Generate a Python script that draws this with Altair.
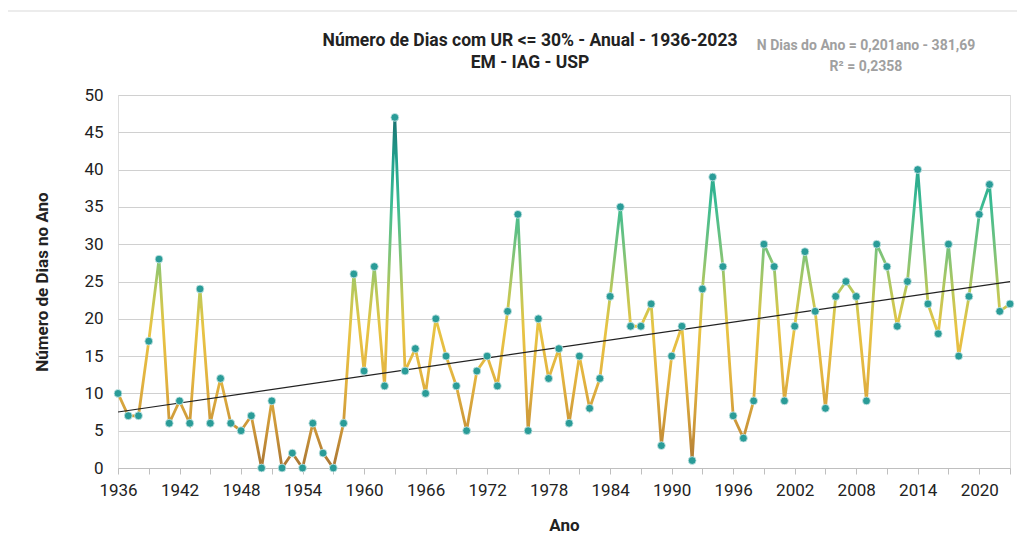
import altair as alt
import pandas as pd

years = list(range(1936, 2024))
days = [10, 7, 7, 17, 28, 6, 9, 6, 24, 6,
        12, 6, 5, 7, 0, 9, 0, 2, 0, 6,
        2, 0, 6, 26, 13, 27, 11, 47, 13, 16,
        10, 20, 15, 11, 5, 13, 15, 11, 21, 34,
        5, 20, 12, 16, 6, 15, 8, 12, 23, 35,
        19, 19, 22, 3, 15, 19, 1, 24, 39, 27,
        7, 4, 9, 30, 27, 9, 19, 29, 21, 8,
        23, 25, 23, 9, 30, 27, 19, 25, 40, 22,
        18, 30, 15, 23, 34, 38, 21, 22]

title_lines = ["Número de Dias com UR <= 30% - Anual - 1936-2023", "EM - IAG - USP"]
eq_lines = ["N Dias do Ano = 0,201ano - 381,69", "R² = 0,2358"]
x_tick_values = list(range(1936, 2024, 3))
y_tick_values = list(range(0, 51, 5))

df = pd.DataFrame({"Ano": years, "Dias": days})

FONT = "Roboto, 'Open Sans', sans-serif"

x_enc = alt.X("Ano:Q",
              scale=alt.Scale(domain=[1936, 2023], nice=False, zero=False),
              axis=alt.Axis(values=x_tick_values, tickCount=60, format="d",
                            labelExpr="(datum.value - 1936) % 6 == 0 ? datum.label : ''",
                            grid=False, tickSize=6, tickColor="#bfbfbf",
                            domainColor="#bfbfbf", labelFontSize=17, labelColor="#222",
                            labelPadding=8, labelFont=FONT, labelFlush=False,
                            labelOverlap=False,
                            title="Ano", titleFont=FONT, titleFontSize=17,
                            titleFontWeight="bold", titleColor="#222",
                            titleY=57, titleBaseline="middle"))
y_enc = alt.Y("Dias:Q",
              scale=alt.Scale(domain=[0, 50], nice=False),
              axis=alt.Axis(values=y_tick_values, tickCount=30, grid=True,
                            gridColor="#d0d0d0", labelOverlap=False, labelFlush=False,
                            ticks=False, domain=False, labelFontSize=17,
                            labelColor="#222", labelPadding=15, labelFont=FONT,
                            title="Número de Dias no Ano", titleFont=FONT,
                            titleFontSize=17, titleFontWeight="bold", titleColor="#222",
                            titleX=-76, titleBaseline="middle"))

grad = alt.Gradient(
    gradient="linear", x1=0, y1=1, x2=0, y2=0,
    stops=[
        alt.GradientStop(offset=0.0, color="#a87535"),
        alt.GradientStop(offset=0.1, color="#c99338"),
        alt.GradientStop(offset=0.25, color="#e2b340"),
        alt.GradientStop(offset=0.4, color="#e8c444"),
        alt.GradientStop(offset=0.5, color="#bcc858"),
        alt.GradientStop(offset=0.6, color="#84c476"),
        alt.GradientStop(offset=0.75, color="#3cbc92"),
        alt.GradientStop(offset=0.88, color="#22a08c"),
        alt.GradientStop(offset=1.0, color="#1a7070"),
    ])

base = alt.Chart(df)

frame = base.mark_rect(filled=False, stroke="#d9d9d9", strokeWidth=1).encode(
    x=alt.value(-111), x2=alt.value(904), y=alt.value(-84), y2=alt.value(480)
).transform_filter("datum.Ano == 1936")

line = base.mark_line(stroke=grad, strokeWidth=2.8).encode(x=x_enc, y=y_enc)

trend = base.transform_regression("Ano", "Dias").mark_line(
    color="#222", strokeWidth=1.2).encode(x=x_enc, y=y_enc)

points = base.mark_point(filled=True, size=62, fill="#2a9c98", stroke="#cfe8e8",
                         strokeWidth=0.8, opacity=1).encode(x=x_enc, y=y_enc)

title = alt.Chart(pd.DataFrame({"t": [title_lines]})).mark_text(
    font=FONT, fontSize=17.5, fontWeight="bold", color="#222",
    align="center", baseline="middle", lineHeight=22
).encode(x=alt.value(412), y=alt.value(-54), text="t:N")

eq = alt.Chart(pd.DataFrame({"t": [eq_lines]})).mark_text(
    font=FONT, fontSize=14, fontWeight="bold", color="#a0a0a0",
    align="center", baseline="middle", lineHeight=21
).encode(x=alt.value(748), y=alt.value(-49), text="t:N")

chart = alt.layer(frame, line, trend, points, title, eq).properties(
    width=892, height=373,
    autosize=alt.AutoSizeParams(type="none"),
    padding={"left": 110, "top": 87, "right": 7, "bottom": 70},
).configure_view(stroke="#d0d0d0").configure(background="white")

chart.save("out.html", embed_options={"renderer": "svg", "actions": False})
